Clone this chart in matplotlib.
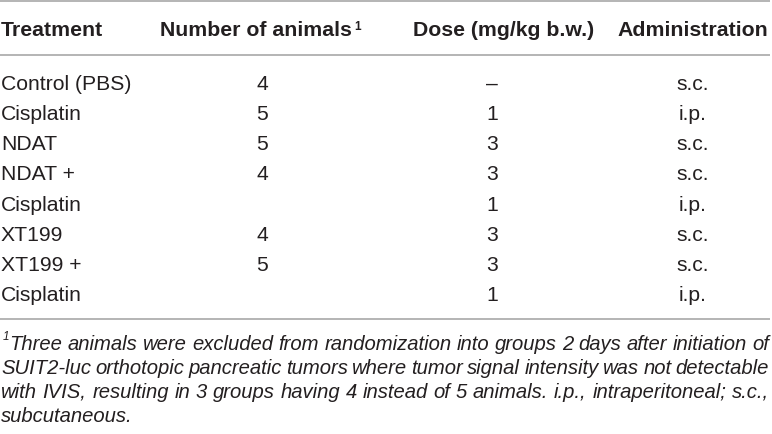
import matplotlib
matplotlib.use("Agg")
import matplotlib.pyplot as plt

# ---- data ----
headers = ["Treatment", "Number of animals", "Dose (mg/kg b.w.)", "Administration"]
header_note = "1"
treatments = ["Control (PBS)", "Cisplatin", "NDAT", "NDAT +", "Cisplatin", "XT199", "XT199 +", "Cisplatin"]
n_animals = ["4", "5", "5", "4", "", "4", "5", ""]
doses = ["\u2013", "1", "3", "3", "1", "3", "3", "1"]
admin = ["s.c.", "i.p.", "s.c.", "s.c.", "i.p.", "s.c.", "s.c.", "i.p."]
footnote_mark = "1"
footnote_lines = [
    "Three animals were excluded from randomization into groups 2 days after initiation of",
    "SUIT2-luc orthotopic pancreatic tumors where tumor signal intensity was not detectable",
    "with IVIS, resulting in 3 groups having 4 instead of 5 animals. i.p., intraperitoneal; s.c.,",
    "subcutaneous.",
]

# ---- layout / style ----
W, H = 772, 434
TXT = "#231f20"
RULE = "#a0a0a0"
FONT = "Liberation Sans"
BODY_SIZE = 15.2
HEAD_SIZE = 15.3
NOTE_SIZE = 14.6

fig = plt.figure(figsize=(W / 100, H / 100), dpi=100)
ax = fig.add_axes([0, 0, 1, 1])
ax.set_xlim(0, W)
ax.set_ylim(H, 0)
ax.axis("off")

for y in (1, 55, 319):
    ax.plot([0, 770], [y, y], color=RULE, lw=1.1, solid_capstyle="butt")

fig.canvas.draw()
renderer = fig.canvas.get_renderer()

def text_width(s, **kw):
    t = ax.text(0, 0, s, **kw)
    bb = t.get_window_extent(renderer=renderer)
    t.remove()
    return bb.width

head_kw = dict(fontsize=HEAD_SIZE, fontweight="bold", family=FONT, color=TXT)
header_y = 36

ax.text(1, header_y, headers[0], ha="left", va="baseline", **head_kw)

# "Number of animals" + superscript
n_left = 160
ax.text(n_left, header_y, headers[1], ha="left", va="baseline", **head_kw)
hw = text_width(headers[1], **head_kw)
ax.text(n_left + hw + 2, 29.5, header_note, fontsize=8.5, fontweight="bold",
        family=FONT, color=TXT, ha="left", va="baseline")

ax.text(504, header_y, headers[2], ha="center", va="baseline", **head_kw)
ax.text(768, header_y, headers[3], ha="right", va="baseline", **head_kw)

val_x = [1, 262, 492, 693]
body_kw = dict(fontsize=BODY_SIZE, family=FONT, color=TXT)
row0, dy = 90, 30.15
for i in range(len(treatments)):
    y = row0 + i * dy
    ax.text(val_x[0], y, treatments[i], ha="left", va="baseline", **body_kw)
    ax.text(val_x[1], y, n_animals[i], ha="center", va="baseline", **body_kw)
    ax.text(val_x[2], y, doses[i], ha="center", va="baseline", **body_kw)
    ax.text(val_x[3], y, admin[i], ha="center", va="baseline", **body_kw)

# footnote, justified
note_kw = dict(fontsize=NOTE_SIZE, family=FONT, style="italic", color=TXT)
ax.text(2.5, 340, footnote_mark, fontsize=8.5, family=FONT, style="italic",
        color=TXT, ha="left", va="baseline")
note_y = [350, 374, 398, 422]
right = 769
for k, line in enumerate(footnote_lines):
    x0 = 9.5 if k == 0 else 1
    if k == len(footnote_lines) - 1:
        ax.text(x0, note_y[k], line, ha="left", va="baseline", **note_kw)
        continue
    words = line.split(" ")
    widths = [text_width(w, **note_kw) for w in words]
    gap = (right - x0 - sum(widths)) / (len(words) - 1)
    x = x0
    for w, wd in zip(words, widths):
        ax.text(x, note_y[k], w, ha="left", va="baseline", **note_kw)
        x += wd + gap

fig.savefig("out.png", dpi=100, facecolor="white")
